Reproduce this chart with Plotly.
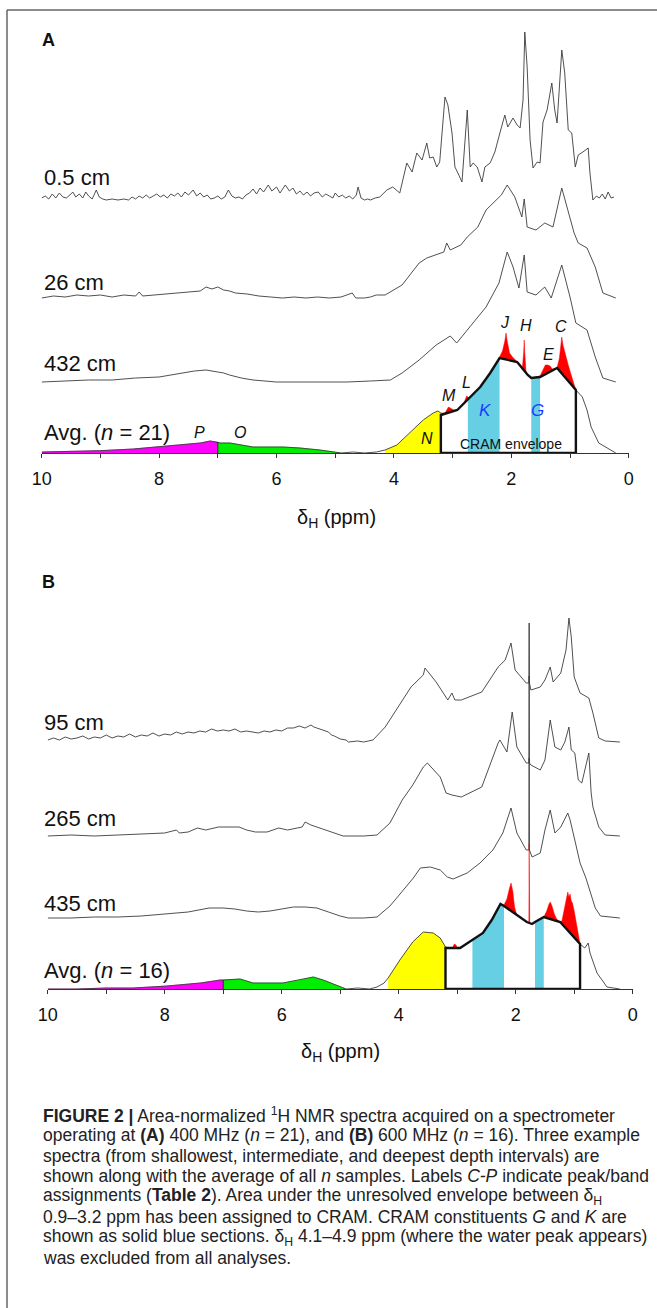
import plotly.graph_objects as go

W, H = 657, 1308

# ---------------- Panel A (400 MHz) ----------------
A_05_ppm = [10.0, 9.94, 9.88, 9.82, 9.76, 9.70, 9.64, 9.58, 9.52, 9.47,
            9.42, 9.36, 9.30, 9.25, 9.20, 9.14, 9.07, 9.02, 8.96, 8.90,
            8.80, 8.70, 8.60, 8.52, 8.46, 8.40, 8.34, 8.28, 8.22, 8.16,
            8.10, 8.04, 7.98, 7.92, 7.86, 7.80, 7.74, 7.68, 7.62, 7.56,
            7.50, 7.42, 7.36, 7.30, 7.24, 7.18, 7.12, 7.06, 7.00, 6.94,
            6.88, 6.82, 6.76, 6.70, 6.64, 6.58, 6.52, 6.46, 6.40, 6.34,
            6.28, 6.22, 6.14, 6.08, 6.00, 5.94, 5.85, 5.78, 5.72, 5.66,
            5.60, 5.54, 5.48, 5.42, 5.36, 5.29, 5.22, 5.16, 5.10, 5.04,
            5.00, 4.94, 4.88, 4.82, 4.76, 4.70, 4.64, 4.61, 4.56, 4.50,
            4.45, 4.40, 4.32, 4.24, 4.12, 4.02, 3.90, 3.78, 3.69, 3.61,
            3.52, 3.44, 3.39, 3.33, 3.27, 3.22, 3.13, 3.08, 3.01, 2.96,
            2.91, 2.84, 2.75, 2.70, 2.65, 2.58, 2.50, 2.45, 2.36, 2.28,
            2.19, 2.11, 2.06, 1.97, 1.90, 1.85, 1.80, 1.77, 1.73, 1.68,
            1.63, 1.56, 1.51, 1.46, 1.39, 1.31, 1.26, 1.22, 1.14, 1.09,
            1.03, 0.97, 0.91, 0.86, 0.78, 0.69, 0.66, 0.61, 0.55, 0.50,
            0.45, 0.40, 0.35, 0.30, 0.25]
A_05_int = [2, 4, 1, 6, 2, 7, 3, 2, 5, 8,
            3, 6, 2, 8, 4, 1, 10, 3, 1, 0,
            1, 0, 1, 0, 3, 1, 4, 2, 5, 2,
            4, 6, 3, 5, 2, 6, 4, 7, 3, 8,
            5, 10, 4, 7, 3, 5, 1, 2, 4, 1,
            3, 10, 4, 2, 3, 1, 5, 7, 11, 6,
            12, 8, 15, 9, 13, 7, 15, 9, 12, 6,
            9, 5, 8, 4, 7, 8, 3, 6, 4, 2,
            7, 3, 5, 2, 4, 1, 5, 13, 2, 0,
            1, 0, 2, 3, 10, 13, 7, 37, 28, 47,
            40, 57, 42, 43, 33, 38, 103, 95, 67, 33,
            27, 18, 90, 33, 37, 33, 18, 33, 37, 48,
            68, 85, 73, 82, 75, 72, 100, 168, 133, 60,
            32, 38, 37, 78, 90, 117, 90, 77, 150, 127,
            70, 67, 33, 45, 48, 52, 27, 0, 4, 2,
            6, 1, 8, 2, 3]

A_26_ppm = [10.0, 9.8, 9.6, 9.4, 9.2, 9.0, 8.8, 8.6, 8.4, 8.34,
            8.28, 8.1, 7.9, 7.7, 7.5, 7.3, 7.2, 7.1, 7.0, 6.9,
            6.8, 6.7, 6.5, 6.3, 6.1, 5.9, 5.7, 5.5, 5.3, 5.1,
            4.9, 4.71, 4.65, 4.5, 4.4, 4.3, 4.15, 3.86, 3.57, 3.44,
            3.15, 3.10, 3.04, 2.86, 2.75, 2.57, 2.43, 2.26, 2.17, 2.07,
            1.94, 1.82, 1.78, 1.73, 1.58, 1.43, 1.29, 1.14, 1.00, 0.93,
            0.86, 0.71, 0.57, 0.44, 0.22]
A_26_int = [0, 2, 1, 3, 2, 3, 1, 3, 2, 6,
            2, 3, 4, 5, 6, 7, 11, 9, 11, 8,
            7, 5, 4, 2, 1, 0, 1, 0, 1, 0,
            1, 5, 0, 0, 1, 3, 3, 13, 35, 40,
            46, 55, 48, 53, 61, 71, 88, 98, 103, 113,
            101, 81, 99, 71, 68, 75, 71, 110, 81, 65,
            55, 50, 31, 5, 0]

A_432_ppm = [10.0, 9.6, 9.2, 8.8, 8.4, 8.0, 7.8, 7.6, 7.4, 7.2,
             7.1, 7.0, 6.9, 6.8, 6.6, 6.4, 6.2, 6.0, 5.6, 5.2,
             4.8, 4.4, 4.06, 3.86, 3.57, 3.28, 3.04, 2.93, 2.65, 2.43,
             2.21, 2.07, 1.97, 1.87, 1.78, 1.73, 1.58, 1.43, 1.32, 1.14,
             1.00, 0.90, 0.71, 0.57, 0.44, 0.22]
A_432_int = [0, 1, 2, 2, 4, 5, 7, 9, 11, 12,
             11, 10, 9, 7, 4, 2, 1, 0, 0, 0,
             0, 1, 2, 9, 22, 37, 46, 39, 59, 75,
             99, 130, 115, 94, 127, 90, 87, 95, 84, 117,
             85, 59, 52, 25, 4, 0]

A_avg_ppm = [10.0, 9.57, 9.01, 8.44, 8.01, 7.59, 7.30, 7.13, 7.0, 6.96,
             6.79, 6.62, 6.40, 5.89, 5.60, 5.26, 5.0, 4.9, 4.7, 4.5,
             4.3, 4.2, 4.15, 3.95, 3.67, 3.50, 3.33, 3.25, 3.2, 3.13,
             3.07, 3.0, 2.95, 2.92, 2.8, 2.76, 2.72, 2.53, 2.36, 2.2,
             2.15, 2.11, 2.09, 2.07, 2.03, 1.98, 1.93, 1.9, 1.81, 1.79,
             1.78, 1.77, 1.75, 1.72, 1.66, 1.51, 1.46, 1.42, 1.38, 1.34,
             1.3, 1.22, 1.18, 1.15, 1.14, 1.12, 1.08, 1.03, 0.98, 0.94,
             0.9, 0.79, 0.71, 0.64, 0.51, 0.22]
A_avg_int = [1, 1.5, 2.3, 4, 6, 8, 10, 12, 11, 10,
             10, 8, 6, 6, 5, 3, 1, 0, 1, 0,
             1, 2, 3, 8, 23, 33, 40, 42, 40, 40,
             46, 44, 42, 43, 51, 57, 55, 66, 80, 96,
             102, 112, 120, 112, 100, 96, 93, 91, 86, 100,
             113, 100, 82, 78, 75, 77, 84, 88, 88, 87,
             84, 85, 95, 110, 116, 108, 98, 88, 78, 70,
             63, 56, 43, 26, 10, 0]

A_env_ppm = [3.2, 2.92, 2.74, 2.53, 2.36, 2.2, 1.9, 1.72, 1.66, 1.51, 1.22, 0.9]
A_env_int = [38, 43, 54, 66, 80, 95, 91, 78, 75, 76, 85, 63]

# ---------------- Panel B (600 MHz) ----------------
B_95_ppm = [10.0, 9.9, 9.8, 9.7, 9.6, 9.5, 9.4, 9.3, 9.2, 9.1,
            9.0, 8.9, 8.8, 8.7, 8.6, 8.5, 8.4, 8.3, 8.2, 8.1,
            8.0, 7.9, 7.8, 7.7, 7.6, 7.5, 7.4, 7.3, 7.2, 7.1,
            7.0, 6.9, 6.8, 6.7, 6.6, 6.5, 6.4, 6.3, 6.2, 6.1,
            6.0, 5.9, 5.8, 5.7, 5.6, 5.5, 5.45, 5.4, 5.3, 5.2,
            5.15, 5.1, 5.0, 4.9, 4.86, 4.7, 4.6, 4.5, 4.44,
            4.23, 4.01, 3.79, 3.58, 3.55, 3.36, 3.16, 3.09, 3.04,
            2.93, 2.58, 2.30, 2.18, 2.08, 2.01, 1.82, 1.775, 1.77, 1.765,
            1.74, 1.58, 1.50, 1.41, 1.36, 1.23, 1.14, 1.09, 1.05, 1.00,
            0.90, 0.75, 0.68, 0.58, 0.47, 0.22]
B_95_int = [0, 2, 0, 3, 1, 2, 4, 1, 3, 2,
            5, 2, 4, 3, 6, 3, 5, 4, 7, 4,
            6, 5, 8, 6, 8, 7, 9, 8, 11, 9,
            10, 9, 11, 8, 9, 8, 7, 9, 8, 10,
            9, 12, 12, 14, 12, 15, 13, 12, 10, 8,
            5, 4, 1, 0, -2, -1, -2, -1, 0,
            13, 33, 53, 65, 72, 58, 40, 47, 40,
            40, 48, 73, 80, 97, 70, 57, 57, 117, 57,
            50, 53, 60, 73, 58, 67, 90, 122, 103, 63,
            47, 42, 27, 2, -1, -2]

B_265_ppm = [10.0, 9.6, 9.2, 8.8, 8.4, 8.0, 7.8, 7.75, 7.6, 7.44,
             7.3, 7.08, 6.9, 6.73, 6.6, 6.45, 6.25, 6.05, 5.9, 5.75,
             5.65, 5.6, 5.5, 5.3, 5.1, 4.95, 4.6, 4.37, 4.15, 3.94,
             3.76, 3.58, 3.51, 3.29, 3.19, 3.09, 2.93, 2.58, 2.30, 2.27,
             2.15, 2.06, 1.98, 1.82, 1.775, 1.77, 1.765, 1.74, 1.58, 1.50,
             1.41, 1.33, 1.23, 1.16, 1.09, 1.05, 0.99, 0.93, 0.87, 0.75,
             0.71, 0.68, 0.58, 0.47, 0.22]
B_265_int = [0, 1, 0, 1, 2, 3, 6, 3, 4, 8,
             6, 9, 9, 9, 6, 4, 4, 8, 6, 8,
             9, 14, 11, 7, 3, 0, 0, 1, 13, 36,
             51, 69, 73, 59, 43, 41, 39, 49, 93, 96,
             84, 124, 89, 73, 73, 160, 73, 71, 66, 76,
             116, 89, 86, 94, 109, 86, 83, 56, 53, 83,
             43, 29, 9, 1, 0]

B_435_ppm = [10.0, 9.6, 9.2, 8.8, 8.4, 8.0, 7.6, 7.24, 7.0, 6.8,
             6.6, 6.4, 6.2, 6.0, 5.8, 5.6, 5.4, 5.2, 5.0, 4.86,
             4.6, 4.37, 4.15, 4.02, 3.75, 3.63, 3.46, 3.29, 3.17, 3.07,
             2.83, 2.61, 2.39, 2.22, 2.08, 1.98, 1.82, 1.775, 1.77, 1.765,
             1.72, 1.58, 1.50, 1.41, 1.33, 1.23, 1.11, 1.07, 0.99, 0.90,
             0.80, 0.72, 0.64, 0.55, 0.22]
B_435_int = [0, 0, 1, 1, 2, 4, 6, 10, 10, 9,
             7, 6, 7, 9, 11, 11, 10, 6, 2, 0,
             0, 1, 12, 21, 40, 50, 51, 48, 41, 39,
             45, 55, 68, 85, 110, 85, 68, 68, 160, 68,
             61, 65, 88, 108, 85, 91, 105, 98, 78, 55,
             40, 25, 10, 2, 0]

B_avg_ppm = [10.0, 9.5, 9.0, 8.54, 7.96, 7.39, 7.05, 7.0, 6.71, 6.49,
             5.98, 5.69, 5.51, 5.46, 5.29, 5.09, 4.9, 4.7, 4.5, 4.37,
             4.25, 4.18, 3.98, 3.76, 3.58, 3.41, 3.29, 3.2, 3.08, 3.05,
             3.02, 3.0, 2.95, 2.74, 2.56, 2.41, 2.26, 2.2, 2.15, 2.11,
             2.08, 2.05, 2.02, 1.98, 1.81, 1.78, 1.775, 1.77, 1.765, 1.76,
             1.72, 1.67, 1.52, 1.47, 1.43, 1.41, 1.38, 1.34, 1.3, 1.24,
             1.21, 1.18, 1.15, 1.13, 1.11, 1.09, 1.07, 1.05, 1.03, 1.0,
             0.97, 0.94, 0.9, 0.82, 0.76, 0.73, 0.61, 0.44, 0.22]
B_avg_int = [0, 0, 1, 1, 3, 6, 9, 9, 10, 6,
             6, 9, 11, 12, 9, 4, 0, 1, 0, 2,
             6, 11, 29, 47, 57, 56, 51, 42, 41, 45,
             44, 41, 41, 49, 56, 69, 85, 84, 90, 100,
             106, 98, 82, 74, 67, 66, 66, 145, 66, 66,
             65, 67, 72, 78, 85, 87, 83, 75, 70, 67,
             68, 76, 85, 90, 97, 92, 95, 88, 86, 78,
             68, 58, 45, 41, 46, 36, 16, 2, 0]

B_env_ppm = [3.2, 2.95, 2.74, 2.56, 2.41, 2.26, 2.2, 1.98, 1.81, 1.72, 1.67, 1.52, 1.24, 0.9]
B_env_int = [41, 41, 49, 56, 69, 85, 83, 74, 67, 65, 67, 72, 67, 45]

# band limits (ppm)
P_RANGE = (7.0, 10.0)
O_RANGE = (4.9, 7.0)
A_N_RANGE = (3.2, 4.15)
B_N_RANGE = (3.2, 4.18)
CRAM_RANGE = (0.9, 3.2)
A_K_RANGE, A_G_RANGE = (2.2, 2.74), (1.51, 1.66)
B_K_RANGE, B_G_RANGE = (2.2, 2.74), (1.52, 1.67)

# vertical stacking offsets (intensity units)
A_OFFSETS = {"0.5 cm": 253, "26 cm": 155, "432 cm": 71}
B_OFFSETS = {"95 cm": 249, "265 cm": 153, "435 cm": 71}

GREY = "#3c3c3c"
MAGENTA, GREEN, YELLOW, RED, BLUE = "#ff00ff", "#00ee00", "#ffff00", "#ff0000", "#66cfe4"
FONT = "Liberation Sans, Arial, sans-serif"

fig = go.Figure()


def add(xs, ys, xa, ya, **kw):
    fig.add_trace(go.Scatter(x=xs, y=ys, xaxis=xa, yaxis=ya, hoverinfo="skip",
                             showlegend=False, **kw))


def sel(ppm, inten, rng):
    lo, hi = rng
    pts = [(p, v) for p, v in zip(ppm, inten) if lo - 1e-9 <= p <= hi + 1e-9]
    return [p for p, _ in pts], [v for _, v in pts]


def panel(spectra, offsets, avg_ppm, avg_int, env_ppm, env_int, n_rng, k_rng, g_rng, xa, ya):
    for name, (pp, ii) in spectra.items():
        add(pp, [v + offsets[name] for v in ii], xa, ya, mode="lines",
            line=dict(color=GREY, width=0.9))
    # coloured bands under the average spectrum
    for rng, col in [(P_RANGE, MAGENTA), (O_RANGE, GREEN), (n_rng, YELLOW), (CRAM_RANGE, RED)]:
        xs, ys = sel(avg_ppm, avg_int, rng)
        add(xs, ys, xa, ya, mode="lines", fill="tozeroy", fillcolor=col,
            line=dict(color=col, width=0.5))
    # grey average line outside the CRAM envelope
    for rng in [(3.2, 10.0), (0.0, 0.9)]:
        xs, ys = sel(avg_ppm, avg_int, rng)
        add(xs, ys, xa, ya, mode="lines", line=dict(color=GREY, width=0.9))
    # separator between P and O
    xs, ys = sel(avg_ppm, avg_int, (P_RANGE[0], P_RANGE[0]))
    add([xs[0], xs[0]], [0, ys[0]], xa, ya, mode="lines", line=dict(color="#222", width=1))
    # CRAM envelope (white), blue constituents, black outline
    ex = [env_ppm[0]] + env_ppm + [env_ppm[-1], env_ppm[0]]
    ey = [0] + env_int + [0, 0]
    add(ex, ey, xa, ya, mode="lines", fill="toself", fillcolor="white",
        line=dict(color="rgba(0,0,0,0)", width=0))
    for rng in [k_rng, g_rng]:
        xs, ys = sel(env_ppm, env_int, rng)
        add([xs[0]] + xs + [xs[-1], xs[0]], [0] + ys + [0, 0], xa, ya, mode="lines",
            fill="toself", fillcolor=BLUE, line=dict(color="rgba(0,0,0,0)", width=0))
    add(ex, ey, xa, ya, mode="lines", line=dict(color="#111", width=2.4))


panel({"0.5 cm": (A_05_ppm, A_05_int), "26 cm": (A_26_ppm, A_26_int),
       "432 cm": (A_432_ppm, A_432_int)}, A_OFFSETS,
      A_avg_ppm, A_avg_int, A_env_ppm, A_env_int, A_N_RANGE, A_K_RANGE, A_G_RANGE, "x", "y")
panel({"95 cm": (B_95_ppm, B_95_int), "265 cm": (B_265_ppm, B_265_int),
       "435 cm": (B_435_ppm, B_435_int)}, B_OFFSETS,
      B_avg_ppm, B_avg_int, B_env_ppm, B_env_int, B_N_RANGE, B_K_RANGE, B_G_RANGE, "x2", "y2")


def px(x):
    return x / W


def py(y):
    return 1 - y / H


xcommon = dict(range=[10, 0], showline=True, linecolor="#333", linewidth=1,
               ticks="outside", ticklen=4, tickcolor="#333", tickwidth=1,
               tickvals=[10, 8, 6, 4, 2, 0], ticktext=["10", "8", "6", "4", "2", "0"],
               tickfont=dict(size=18, family=FONT, color="#111"),
               minor=dict(tickvals=[9, 7, 5, 3, 1], ticks="outside", ticklen=4,
                          tickcolor="#333", tickwidth=1),
               ticklabelstandoff=5, showgrid=False, zeroline=False, fixedrange=True)
ycommon = dict(visible=False, showgrid=False, zeroline=False, fixedrange=True)

fig.update_layout(
    width=W, height=H, margin=dict(l=0, r=0, t=0, b=0, autoexpand=False),
    paper_bgcolor="white", plot_bgcolor="rgba(0,0,0,0)", showlegend=False,
    xaxis=dict(xcommon, domain=[px(41.7), px(628.7)], anchor="y", automargin=False),
    yaxis=dict(ycommon, domain=[py(453), py(13)], range=[0, 440], anchor="x"),
    xaxis2=dict(xcommon, domain=[px(47.7), px(632.7)], anchor="y2", automargin=False),
    yaxis2=dict(ycommon, domain=[py(989), py(560)], range=[0, 429], anchor="x2"),
)

ann = []


def label(x, y, text, size=20, xanchor="left", color="#111", **kw):
    ann.append(dict(x=px(x), y=py(y), xref="paper", yref="paper", text=text,
                    showarrow=False, xanchor=xanchor, yanchor="middle",
                    font=dict(size=size, family=FONT, color=color), **kw))


label(40, 40, "<b>A</b>", size=18)
label(40, 582, "<b>B</b>", size=18)
label(42, 177, "0.5 cm", size=22)
label(42, 282, "26 cm", size=22)
label(42, 363, "432 cm", size=22)
label(42, 432, "Avg. (<i>n</i> = 21)", size=22)
label(42, 722, "95 cm", size=22)
label(42, 818, "265 cm", size=22)
label(42, 903, "435 cm", size=22)
label(42, 970, "Avg. (<i>n</i> = 16)", size=22)

for t, x, y in [("J", 505, 322), ("H", 526, 325), ("C", 561, 326), ("E", 548, 354),
                ("L", 466, 382), ("M", 449, 396), ("N", 427, 438), ("P", 199, 432), ("O", 240, 432)]:
    label(x, y, f"<i>{t}</i>", size=16, xanchor="center")
label(485, 410, "<i>K</i>", size=17, xanchor="center", color="#1a3cff")
label(537, 410, "<i>G</i>", size=17, xanchor="center", color="#1a3cff")
label(511, 444, "CRAM envelope", size=14, xanchor="center")

label(336, 518, "δ<sub>H</sub> (ppm)", size=20, xanchor="center")
label(340, 1052, "δ<sub>H</sub> (ppm)", size=20, xanchor="center")

caption = [
    "<b>FIGURE 2 |</b> Area-normalized <sup>1</sup>H NMR spectra acquired on a spectrometer",
    "operating at <b>(A)</b> 400 MHz (<i>n</i> = 21), and <b>(B)</b> 600 MHz (<i>n</i> = 16). Three example",
    "spectra (from shallowest, intermediate, and deepest depth intervals) are",
    "shown along with the average of all <i>n</i> samples. Labels <i>C-P</i> indicate peak/band",
    "assignments (<b>Table 2</b>). Area under the unresolved envelope between δ<sub>H</sub>",
    "0.9–3.2 ppm has been assigned to CRAM. CRAM constituents <i>G</i> and <i>K</i> are",
    "shown as solid blue sections. δ<sub>H</sub> 4.1–4.9 ppm (where the water peak appears)",
    "was excluded from all analyses.",
]
for i, line in enumerate(caption):
    label(41, 1115 + i * 20.4, line, size=17.5, color="#222")

fig.update_layout(
    annotations=ann,
    shapes=[
        dict(type="line", xref="paper", yref="paper", x0=px(7), x1=px(7), y0=py(10), y1=0,
             line=dict(color="#666", width=1.5)),
        dict(type="line", xref="paper", yref="paper", x0=px(7), x1=1, y0=py(10), y1=py(10),
             line=dict(color="#666", width=1.5)),
    ],
)

fig.write_html("out.html", config={"displayModeBar": False, "staticPlot": True},
               post_script="document.body.style.margin='0';document.body.style.overflow='hidden';")
